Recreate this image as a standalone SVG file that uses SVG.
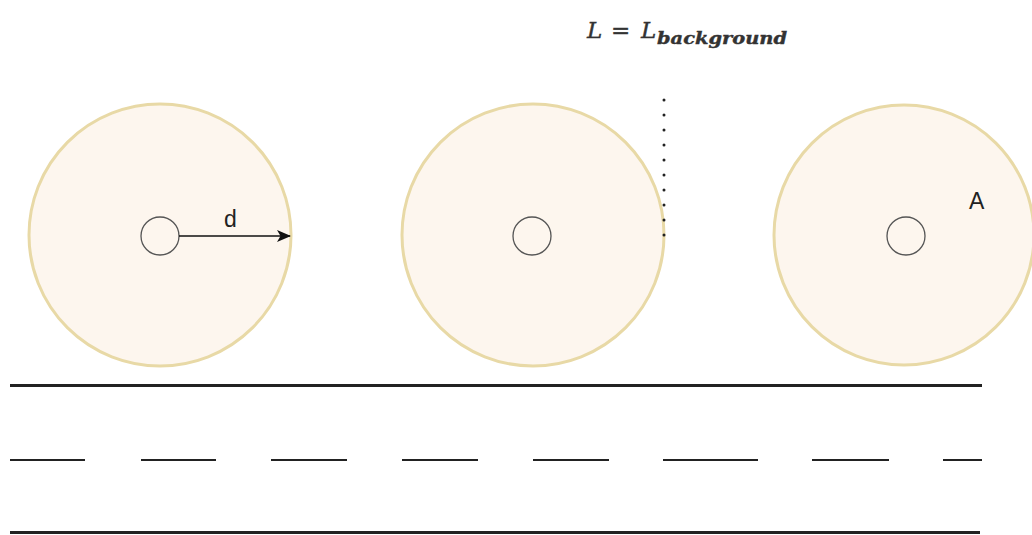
<svg xmlns="http://www.w3.org/2000/svg" width="1032" height="535" viewBox="0 0 1032 535">
<style>
.zone{fill:#fdf6ee;stroke:#e8d9a6;stroke-width:3}
.src{fill:none;stroke:#555;stroke-width:1.3}
.lbl{font-family:"Liberation Sans",Arial,sans-serif;font-size:23px;fill:#222}
.road{stroke:#222;stroke-width:3}
.dash{stroke:#222;stroke-width:2}
.math{font-family:"DejaVu Serif","Liberation Serif",serif;font-style:italic;fill:#333;stroke:#333;stroke-width:0.4}
</style>
<defs>
<marker id="arr" markerWidth="14" markerHeight="12" refX="13" refY="6" orient="auto" markerUnits="userSpaceOnUse">
<path d="M0,0 L14,6 L0,12 L3.5,6 Z" fill="#111"/>
</marker>
</defs>
<rect width="1032" height="535" fill="#ffffff"/>
<g id="node-left">
<circle class="zone" cx="160" cy="235" r="131"/>
<circle class="src" cx="160" cy="236" r="19"/>
<text class="lbl" x="224" y="227">d</text>
</g>
<g id="node-middle">
<circle class="zone" cx="533" cy="235" r="131"/>
<circle class="src" cx="532" cy="236" r="19"/>
</g>
<g id="node-right">
<circle class="zone" cx="904" cy="235" r="130"/>
<circle class="src" cx="906" cy="236" r="19"/>
<text class="lbl" x="969" y="209">A</text>
</g>
<g id="formula">
<text class="math" x="587" y="38" font-size="23">L</text>
<text class="math" x="611" y="38" font-size="23" font-style="normal">=</text>
<text class="math" x="641" y="38" font-size="23">L</text>
<text class="math" x="657" y="44" font-size="17" font-weight="bold" textLength="130" lengthAdjust="spacingAndGlyphs">background</text>
</g>
<g id="connectors">
<line x1="179" y1="236" x2="290" y2="236" stroke="#111" stroke-width="1.5" marker-end="url(#arr)"/>
<line x1="664" y1="100" x2="664" y2="236" stroke="#222" stroke-width="3" stroke-linecap="round" stroke-dasharray="0 15"/>
</g>
<g id="road">
<line class="road" x1="10" y1="385.5" x2="982" y2="385.5"/>
<line class="road" x1="10" y1="532.5" x2="980" y2="532.5"/>
<line class="dash" x1="10" y1="460" x2="85" y2="460"/>
<line class="dash" x1="141" y1="460" x2="216" y2="460"/>
<line class="dash" x1="271" y1="460" x2="347" y2="460"/>
<line class="dash" x1="402" y1="460" x2="478" y2="460"/>
<line class="dash" x1="533" y1="460" x2="609" y2="460"/>
<line class="dash" x1="663" y1="460" x2="758" y2="460"/>
<line class="dash" x1="812" y1="460" x2="889" y2="460"/>
<line class="dash" x1="943" y1="460" x2="982" y2="460"/>
</g>
</svg>
